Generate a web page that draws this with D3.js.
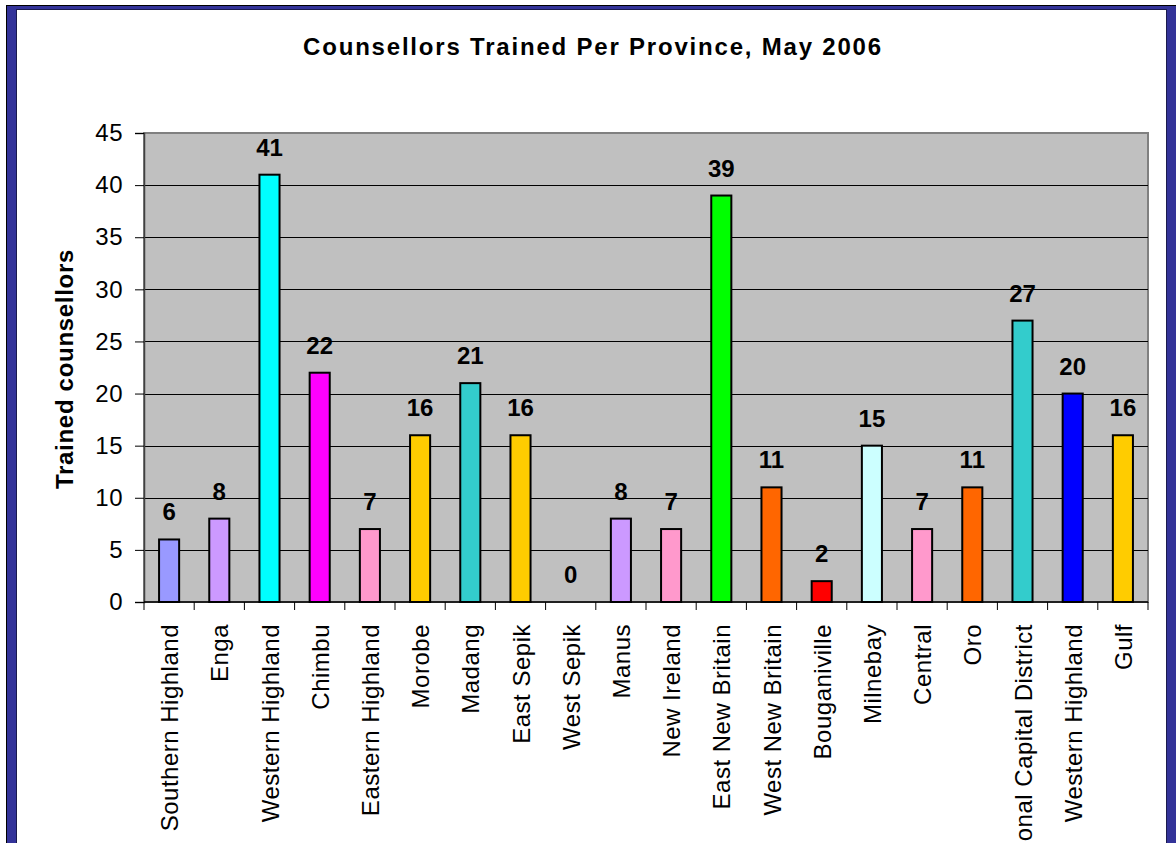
<!DOCTYPE html>
<html>
<head>
<meta charset="utf-8">
<script src="https://cdn.jsdelivr.net/npm/d3@7"></script>
<style>
  body { margin: 0; background: #fff; overflow: hidden; }
  svg { display: block; font-family: "Liberation Sans", Arial, sans-serif; }
</style>
</head>
<body>
<script>
// provinces, in chart order
const provinces = ["Southern Highland", "Enga", "Western Highland", "Chimbu", "Eastern Highland",
  "Morobe", "Madang", "East Sepik", "West Sepik", "Manus", "New Ireland", "East New Britain",
  "West New Britain", "Bouganiville", "Milnebay", "Central", "Oro", "National Capital District",
  "Western Highland", "Gulf"];
const counsellors = [6, 8, 41, 22, 7, 16, 21, 16, 0, 8, 7, 39, 11, 2, 15, 7, 11, 27, 20, 16];
const barColors = ["#9999ff", "#cc99ff", "#00ffff", "#ff00ff", "#ff99cc", "#ffcc00", "#33cccc",
  "#ffcc00", "#cccccc", "#cc99ff", "#ff99cc", "#00ff00", "#ff6600", "#ff0000", "#ccffff",
  "#ff99cc", "#ff6600", "#33cccc", "#0000ff", "#ffcc00"];
const yTicks = [0, 5, 10, 15, 20, 25, 30, 35, 40, 45];

const W = 1176, H = 843;
const svg = d3.select("body").append("svg")
  .attr("width", W)
  .attr("height", H);

// slide frame
svg.append("rect")
  .attr("x", 6.5).attr("y", 5.5)
  .attr("width", W + 10).attr("height", H + 10)
  .attr("fill", "#333399").attr("stroke", "#000").attr("stroke-width", 1);
svg.append("rect")
  .attr("x", 16.5).attr("y", 9.5)
  .attr("width", 1150).attr("height", H + 10)
  .attr("fill", "#fff").attr("stroke", "#1a1a4d").attr("stroke-width", 1);

const plot = { left: 144, top: 133, right: 1148, bottom: 602 };

const x = d3.scaleBand()
  .domain(d3.range(provinces.length))
  .range([plot.left, plot.right])
  .paddingInner(0).paddingOuter(0);

const y = d3.scaleLinear()
  .domain([0, 45])
  .range([plot.bottom, plot.top]);

const barW = x.bandwidth() / 2.5;

// plot area background
svg.append("rect")
  .attr("x", plot.left).attr("y", plot.top)
  .attr("width", plot.right - plot.left).attr("height", plot.bottom - plot.top)
  .attr("fill", "#c0c0c0").attr("stroke", "#808080").attr("stroke-width", 2);

// gridlines
svg.append("g")
  .selectAll("line")
  .data(yTicks.filter(d => d > 0 && d < 45))
  .join("line")
  .attr("x1", plot.left).attr("x2", plot.right)
  .attr("y1", d => Math.round(y(d)) + 0.5).attr("y2", d => Math.round(y(d)) + 0.5)
  .attr("stroke", "#000").attr("stroke-width", 1);

// y axis
const yAxis = svg.append("g")
  .attr("transform", `translate(${plot.left},0)`)
  .call(d3.axisLeft(y).tickValues(yTicks).tickSize(9).tickPadding(12));
yAxis.select(".domain").attr("stroke", "#404040").attr("stroke-width", 1.5);
yAxis.selectAll(".tick line").attr("stroke", "#000");
yAxis.selectAll("text")
  .attr("font-size", 24).attr("fill", "#000")
  .attr("font-family", "Liberation Sans, Arial, sans-serif")
  .style("letter-spacing", "0.5px");

// x axis ticks at band edges
const xAxisG = svg.append("g");
xAxisG.append("line")
  .attr("x1", plot.left).attr("x2", plot.right)
  .attr("y1", plot.bottom).attr("y2", plot.bottom)
  .attr("stroke", "#000").attr("stroke-width", 1.5);
xAxisG.selectAll("line.tk")
  .data(d3.range(provinces.length + 1))
  .join("line")
  .attr("class", "tk")
  .attr("x1", i => (i < provinces.length ? x(i) : plot.right))
  .attr("x2", i => (i < provinces.length ? x(i) : plot.right))
  .attr("y1", plot.bottom).attr("y2", plot.bottom + 8)
  .attr("stroke", "#000").attr("stroke-width", 1);

// x labels, rotated
xAxisG.selectAll("text")
  .data(provinces)
  .join("text")
  .attr("transform", (d, i) => `translate(${x(i) + x.bandwidth() / 2 + 9},${plot.bottom + 22}) rotate(-90)`)
  .attr("text-anchor", "end")
  .attr("font-size", 24)
  .style("letter-spacing", "0.5px")
  .text(d => d);

// bars
svg.append("g")
  .selectAll("rect")
  .data(counsellors)
  .join("rect")
  .attr("x", (d, i) => x(i) + (x.bandwidth() - barW) / 2)
  .attr("y", d => y(d))
  .attr("width", barW)
  .attr("height", d => y(0) - y(d))
  .attr("fill", (d, i) => barColors[i])
  .attr("stroke", "#000")
  .attr("stroke-width", d => (d > 0 ? 2 : 0));

// value labels
svg.append("g")
  .selectAll("text")
  .data(counsellors)
  .join("text")
  .attr("x", (d, i) => x(i) + x.bandwidth() / 2)
  .attr("y", d => y(d) - 19)
  .attr("text-anchor", "middle")
  .attr("font-size", 24)
  .attr("font-weight", "bold")
  .text(d => d);

// title
svg.append("text")
  .attr("x", 593).attr("y", 55)
  .attr("text-anchor", "middle")
  .attr("font-size", 24)
  .attr("font-weight", "bold")
  .style("letter-spacing", "1.8px")
  .text("Counsellors Trained Per Province, May 2006");

// y axis title
svg.append("text")
  .attr("transform", `translate(73,369) rotate(-90)`)
  .attr("text-anchor", "middle")
  .attr("font-size", 24)
  .attr("font-weight", "bold")
  .style("letter-spacing", "0.7px")
  .text("Trained counsellors");
</script>
</body>
</html>
